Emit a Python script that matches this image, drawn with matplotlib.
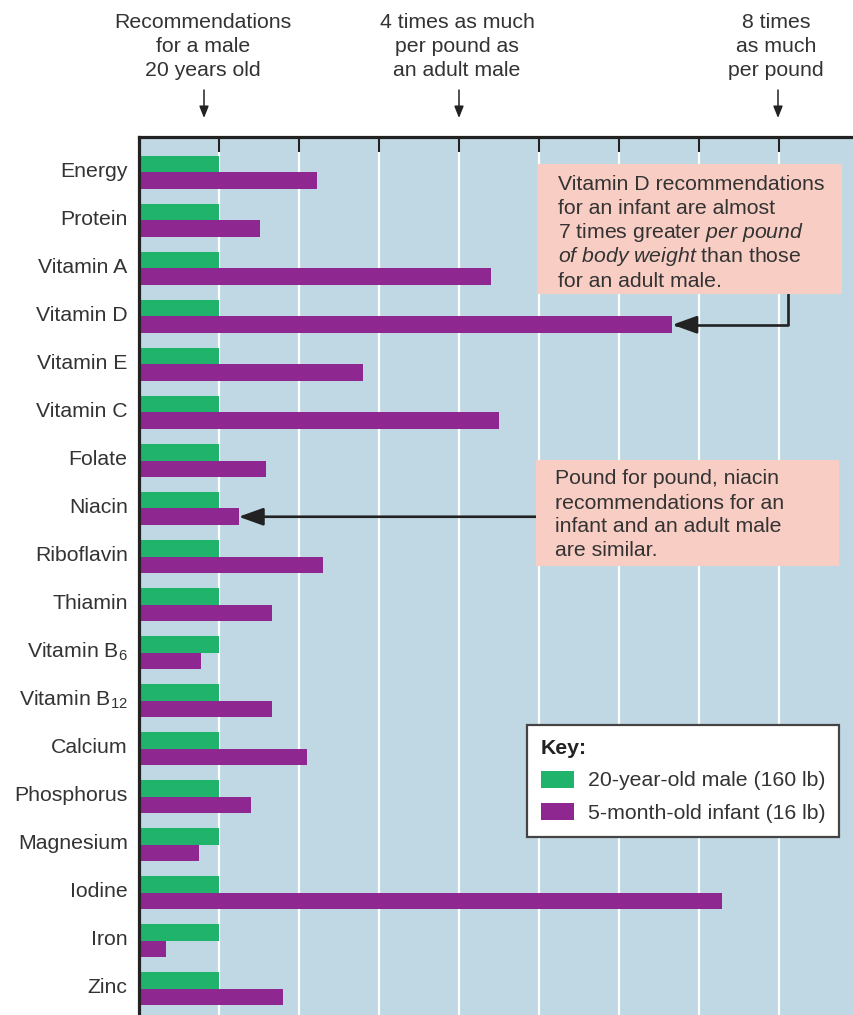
import matplotlib
matplotlib.use("Agg")
import matplotlib.pyplot as plt
from matplotlib.patches import Rectangle
from matplotlib.transforms import ScaledTranslation
import numpy as np

# ---- data -------------------------------------------------------------
nutrients = [
    "Energy", "Protein", "Vitamin A", "Vitamin D", "Vitamin E", "Vitamin C",
    "Folate", "Niacin", "Riboflavin", "Thiamin",
    r"Vitamin B$_{\mathregular{6}}$", r"Vitamin B$_{\mathregular{12}}$",
    "Calcium", "Phosphorus", "Magnesium", "Iodine", "Iron", "Zinc",
]
# recommendations per pound of body weight, relative to the adult male
male = [1.0] * 18
infant = [2.22, 1.51, 4.39, 6.66, 2.79, 4.49, 1.58, 1.24, 2.29, 1.66,
          0.77, 1.66, 2.09, 1.39, 0.74, 7.28, 0.33, 1.79]
multiples = [1, 2, 3, 4, 5, 6, 7, 8]
series_labels = ["20-year-old male (160 lb)", "5-month-old infant (16 lb)"]

header_texts = [
    ["Recommendations", "for a male", "20 years old"],
    ["4 times as much", "per pound as", "an adult male"],
    ["8 times", "as much", "per pound"],
]
note_vitd = [
    "Vitamin D recommendations",
    "for an infant are almost",
    r"7 times greater $\mathit{per\ pound}$",
    r"$\mathit{of\ body\ weight}$ than those",
    "for an adult male.",
]
note_niacin = [
    "Pound for pound, niacin",
    "recommendations for an",
    "infant and an adult male",
    "are similar.",
]

# ---- style ------------------------------------------------------------
plt.rcParams["font.family"] = ["Liberation Sans", "DejaVu Sans"]
plt.rcParams["mathtext.fontset"] = "custom"
plt.rcParams["mathtext.rm"] = "Liberation Sans"
plt.rcParams["mathtext.it"] = "Liberation Sans:italic"
plt.rcParams["mathtext.bf"] = "Liberation Sans:bold"

GREEN = "#20b36b"
PURPLE = "#8e278f"
BG = "#c0d8e4"
PINK = "#f8cdc4"
TEXT = "#333333"
INK = "#222222"
FS = 15.3

W, H = 854, 1015


def fig_xy(x, y):
    """Pixel position (from top-left) -> figure fraction."""
    return (x / W, 1 - y / H)


fig = plt.figure(figsize=(W / 100, H / 100), dpi=100)
left_px, top_px, unit_px, row_px = 139.5, 137, 80.0, 48.0
ax = fig.add_axes([left_px / W, 0, (W - left_px) / W, (H - top_px) / H])
ax.set_facecolor(BG)

pos = np.arange(len(nutrients))
h = 16.5 / row_px
bars_m = ax.barh(pos - h / 2, male, height=h, color=GREEN, zorder=2)
bars_i = ax.barh(pos + h / 2, infant, height=h, color=PURPLE, zorder=2)

ax.set_xlim(0, (W - left_px) / unit_px)
first_row_px = 172.5
ax.set_ylim((H - first_row_px) / row_px, (top_px - first_row_px) / row_px)

ax.set_xticks(multiples)
ax.xaxis.tick_top()
ax.tick_params(axis="x", direction="in", length=11, width=1.5, colors=INK,
               labeltop=False, labelbottom=False)
ax.xaxis.grid(True, color="white", lw=1.6)
ax.set_axisbelow(True)

ax.set_yticks(pos)
ax.set_yticklabels(nutrients, fontsize=FS, color=TEXT)
ax.tick_params(axis="y", length=0, pad=8.5)
lift = ScaledTranslation(0, 0.03, fig.dpi_scale_trans)
for lab in ax.get_yticklabels():
    lab.set_transform(lab.get_transform() + lift)

for side in ("right", "bottom"):
    ax.spines[side].set_visible(False)
for side in ("left", "top"):
    ax.spines[side].set_color(INK)
    ax.spines[side].set_linewidth(2.3)

# ---- header labels with arrows pointing at the scale -------------------
for lines, xc, xa in zip(header_texts, [203, 457, 776], [204, 459, 778]):
    for k, line in enumerate(lines):
        fig.text(*fig_xy(xc, 22 + k * 24.5), line, ha="center", va="center",
                 fontsize=FS, color=TEXT)
    fig.add_artist(plt.Annotation(
        "", xy=fig_xy(xa, 118), xycoords="figure fraction",
        xytext=fig_xy(xa, 90), textcoords="figure fraction",
        arrowprops=dict(arrowstyle="-|>,head_length=0.7,head_width=0.28",
                        mutation_scale=10, lw=1.1, color=INK,
                        shrinkA=0, shrinkB=0)))

# ---- callout boxes ----------------------------------------------------
def callout(x0, y0, x1, y1, lines, tx, ty0, step):
    fig.add_artist(Rectangle(fig_xy(x0, y1), (x1 - x0) / W, (y1 - y0) / H,
                             transform=fig.transFigure, facecolor=PINK,
                             edgecolor="none", zorder=3))
    for k, line in enumerate(lines):
        fig.text(*fig_xy(tx, ty0 + k * step), line, ha="left", va="center",
                 fontsize=FS, color=TEXT, zorder=4)


callout(538, 164, 842, 294, note_vitd, 558, 184, 24.3)
callout(536, 460, 839, 566, note_niacin, 555, 479, 24.0)

arrow_style = "-|>,head_length=0.75,head_width=0.27"
i_d = nutrients.index("Vitamin D")
ax.annotate("", xy=(infant[i_d], i_d + h / 2), xycoords="data",
            xytext=fig_xy(788, 294), textcoords="figure fraction",
            arrowprops=dict(arrowstyle=arrow_style, mutation_scale=20,
                            connectionstyle="angle,angleA=90,angleB=0,rad=0",
                            lw=1.9, color=INK, shrinkA=0, shrinkB=0),
            zorder=5)
i_n = nutrients.index("Niacin")
ax.annotate("", xy=(infant[i_n], i_n + h / 2), xycoords="data",
            xytext=(536 / W, i_n + h / 2),
            textcoords=("figure fraction", "data"),
            arrowprops=dict(arrowstyle=arrow_style, mutation_scale=20,
                            lw=1.9, color=INK, shrinkA=0, shrinkB=0),
            zorder=5)

# ---- key --------------------------------------------------------------
leg = ax.legend([bars_m, bars_i], series_labels, title="Key:",
                loc="upper left", bbox_to_anchor=fig_xy(527, 725),
                bbox_transform=fig.transFigure, borderaxespad=0,
                alignment="left", fontsize=FS,
                title_fontproperties={"weight": "bold", "size": FS},
                frameon=True, fancybox=False, framealpha=1,
                facecolor="white", edgecolor="#444444",
                borderpad=0.65, handlelength=1.55, handleheight=0.85,
                handletextpad=0.65, labelspacing=0.6)
leg.get_frame().set_linewidth(1.6)
leg.set_zorder(6)
for t in leg.get_texts():
    t.set_color(TEXT)
leg.get_title().set_color("#222222")

fig.savefig("out.png", dpi=100)
